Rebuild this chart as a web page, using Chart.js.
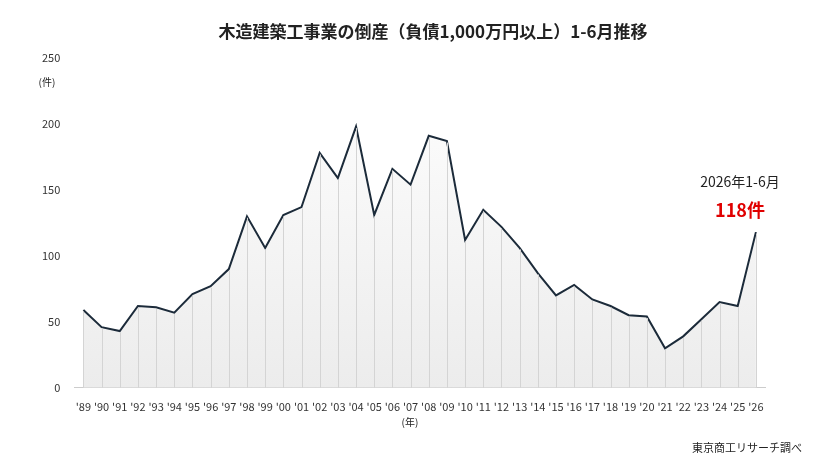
<!DOCTYPE html>
<html><head><meta charset="utf-8">
<script src="https://cdn.jsdelivr.net/npm/chart.js@4"></script>
<style>html,body{margin:0;padding:0;background:#fff;}#w{position:relative;width:813px;height:469px;font-family:"Noto Sans CJK JP",sans-serif;}</style>
</head><body><div id="w"><canvas id="c" width="813" height="469"></canvas></div>
<script>
const categories=["'89","'90","'91","'92","'93","'94","'95","'96","'97","'98","'99","'00","'01","'02","'03","'04","'05","'06","'07","'08","'09","'10","'11","'12","'13","'14","'15","'16","'17","'18","'19","'20","'21","'22","'23","'24","'25","'26"];
const values=[59,46,43,62,61,57,71,77,90,130,106,131,137,178,159,198,131,166,154,191,187,112,135,122,106,87,70,78,67,62,55,54,30,39,52,65,62,118];
const yTicks=[0,50,100,150,200,250];
const titleText="木造建築工事業の倒産（負債1,000万円以上）1-6月推移";
const dropLines={id:'drop',afterDatasetsDraw(ch){const ctx=ch.ctx,m=ch.getDatasetMeta(0),b=ch.chartArea.bottom;ctx.save();ctx.strokeStyle='#d4d4d4';ctx.lineWidth=1;m.data.forEach(p=>{ctx.beginPath();ctx.moveTo(Math.round(p.x)+0.5,p.y+1.5);ctx.lineTo(Math.round(p.x)+0.5,b);ctx.stroke();});ctx.restore();}};
const extras={id:'extras',afterDraw(ch){const ctx=ch.ctx;ctx.save();ctx.fillStyle='#222';ctx.textAlign='center';
ctx.font='bold 17px "Noto Sans CJK JP"';ctx.fillText(titleText,433,38);
ctx.font='10px "Noto Sans CJK JP"';ctx.fillText('(件)',47,86);ctx.fillText('(年)',410,426);
ctx.font='14px "Noto Sans CJK JP"';ctx.fillText('2026年1-6月',740,187);
ctx.fillStyle='#e00000';ctx.font='bold 18px "Noto Sans CJK JP"';ctx.fillText('118件',740,217);
ctx.fillStyle='#222';ctx.font='11px "Noto Sans CJK JP"';ctx.textAlign='right';ctx.fillText('東京商工リサーチ調べ',802,452);ctx.restore();}};
new Chart(document.getElementById('c'),{type:'line',
data:{labels:categories,datasets:[{data:values,borderColor:'#1c2b3a',borderWidth:2,pointRadius:0,tension:0,fill:'origin',
backgroundColor:(c)=>{const a=c.chart.chartArea;if(!a)return '#f5f5f5';const g=c.chart.ctx.createLinearGradient(0,a.top,0,a.bottom);g.addColorStop(0,'#ffffff');g.addColorStop(1,'#ececec');return g;}}]},
options:{responsive:false,animation:false,layout:{padding:{left:36,right:48,top:58,bottom:52}},
plugins:{legend:{display:false},tooltip:{enabled:false}},
scales:{x:{offset:true,grid:{display:false},border:{display:true,color:'#ccc'},ticks:{autoSkip:false,maxRotation:0,color:'#333',font:{size:11,family:'"Noto Sans CJK JP"'},padding:4}},
y:{min:0,max:250,afterBuildTicks:(a)=>{a.ticks=yTicks.map(v=>({value:v}));},grid:{display:false},border:{display:false},ticks:{color:'#333',font:{size:11,family:'"Noto Sans CJK JP"'},padding:6}}}},
plugins:[dropLines,extras]});
</script></body></html>
